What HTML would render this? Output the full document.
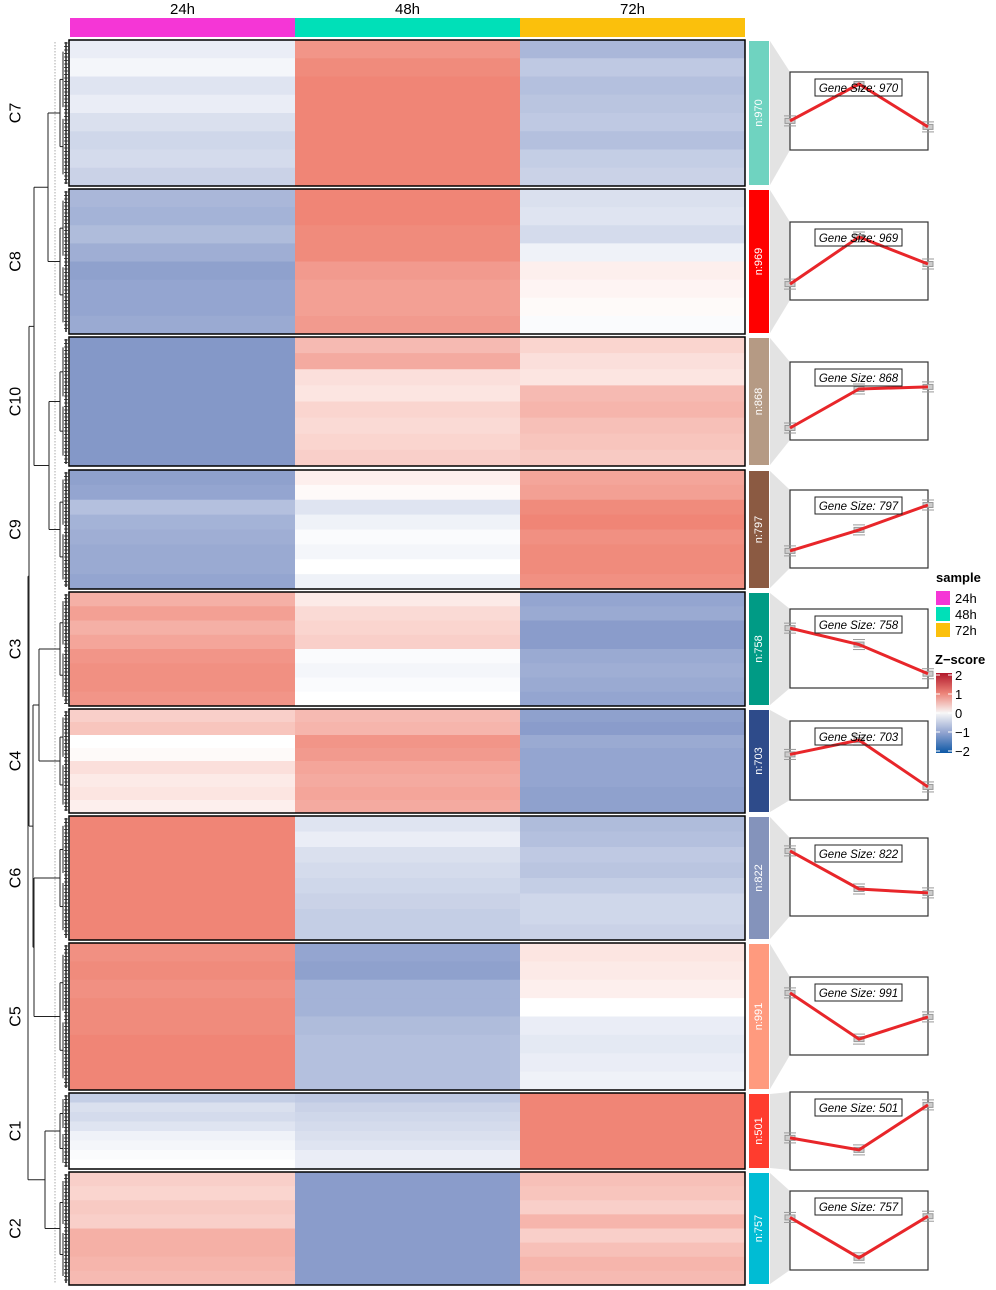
<!DOCTYPE html>
<html><head><meta charset="utf-8"><style>
html,body{margin:0;padding:0;background:#fff;}
svg{display:block;font-family:"Liberation Sans",Arial,sans-serif;}
</style></head><body>
<svg id="chart" width="996" height="1290" viewBox="0 0 996 1290" xmlns="http://www.w3.org/2000/svg">
<g id="hdr"></g>
<g id="dend"></g>
<g id="heat"></g>
<g id="side"></g>
<g id="lines"></g>
<g id="legend"></g>
</svg>
<script>
const samples=["24h","48h","72h"];
const sampleColors=["#f536d6","#00e0b8","#fbc00c"];
const clusters=["C7","C8","C10","C9","C3","C4","C6","C5","C1","C2"];
const geneSizes=[970,969,868,797,758,703,822,991,501,757];
const clusterColors=["#6fd3c0","#ff0000","#b59a84","#8b5a42","#009b85","#2e4b8a","#8493bb","#ff9a7e","#ff3c2e","#00bcd4"];
const heat24=[
[-0.2,-0.1,-0.3,-0.2,-0.35,-0.45,-0.4,-0.5],
[-0.8,-0.85,-0.75,-0.9,-1.05,-1.0,-1.0,-0.95],
[-1.15,-1.15,-1.15,-1.15,-1.15,-1.15,-1.15,-1.15],
[-1.05,-1.0,-0.7,-0.85,-0.9,-0.95,-0.95,-1.0],
[0.75,0.9,0.75,0.85,1.0,1.05,1.05,1.0],
[0.45,0.55,0.0,0.05,0.3,0.2,0.25,0.15],
[1.15,1.15,1.15,1.15,1.15,1.15,1.15,1.15],
[1.05,1.1,1.05,1.1,1.1,1.15,1.15,1.15],
[-0.55,-0.35,-0.4,-0.3,-0.15,-0.1,-0.05,0.0],
[0.45,0.4,0.5,0.45,0.75,0.75,0.7,0.65]];
const heat48=[
[1.0,1.1,1.15,1.15,1.15,1.15,1.15,1.15],
[1.15,1.15,1.1,1.1,0.95,0.9,0.9,0.95],
[0.65,0.8,0.3,0.25,0.4,0.35,0.4,0.45],
[0.15,0.05,-0.3,-0.15,-0.05,-0.1,0.0,-0.15],
[0.2,0.35,0.4,0.45,-0.05,-0.1,-0.05,0.0],
[0.65,0.7,1.0,0.95,0.85,0.8,0.85,0.8],
[-0.3,-0.2,-0.35,-0.4,-0.45,-0.5,-0.55,-0.55],
[-1.0,-1.05,-0.85,-0.85,-0.75,-0.7,-0.7,-0.7],
[-0.6,-0.5,-0.45,-0.4,-0.35,-0.3,-0.2,-0.2],
[-1.1,-1.1,-1.1,-1.1,-1.1,-1.1,-1.1,-1.1]];
const heat72=[
[-0.8,-0.6,-0.7,-0.65,-0.6,-0.7,-0.55,-0.5],
[-0.35,-0.3,-0.4,-0.15,0.15,0.1,0.05,-0.05],
[0.4,0.3,0.25,0.65,0.7,0.6,0.55,0.5],
[0.85,0.9,1.1,1.15,1.05,1.1,1.1,1.05],
[-1.0,-0.95,-1.1,-1.1,-0.95,-0.9,-0.95,-1.0],
[-1.05,-1.1,-0.95,-1.0,-1.0,-1.0,-1.05,-1.05],
[-0.75,-0.7,-0.6,-0.65,-0.55,-0.45,-0.45,-0.5],
[0.25,0.2,0.15,0.0,-0.2,-0.25,-0.2,-0.15],
[1.15,1.15,1.15,1.15,1.15,1.15,1.15,1.15],
[0.6,0.55,0.45,0.7,0.45,0.6,0.7,0.65]];
const meanProfiles=[
[-0.33,0.9,-0.53],[-0.77,0.8,-0.1],[-0.9,0.4,0.47],[-0.73,-0.03,0.8],[0.67,0.13,-0.83],
[0.2,0.67,-0.87],[0.87,-0.4,-0.53],[0.77,-0.77,-0.03],[-0.23,-0.63,0.87],[0.43,-0.9,0.47]];
const zTicks=[2,1,0,-1,-2];

const NS="http://www.w3.org/2000/svg";
function mk(parent,tag,attrs,text){const e=document.createElementNS(NS,tag);for(const k in attrs)e.setAttribute(k,attrs[k]);if(text!==undefined)e.textContent=text;parent.appendChild(e);return e;}
const blocks=[[40,186],[189,334],[337,466],[470,589],[592,706],[709,813],[816,940],[943,1090],[1093,1169],[1172,1285]];
const boxes=[[72,150],[222,300],[362,440],[490,568],[609,688],[721,800],[838,916],[977,1055],[1092,1170],[1191,1270]];
const colX=[70,295,520,745];
function lerp(a,b,t){return a.map((v,i)=>Math.round(v+(b[i]-v)*t));}
function zcol(v){
  const W=[255,255,255],R1=[239,128,112],R2=[190,20,30],B1=[127,147,198],B2=[20,80,160];
  let c;
  if(v>=0){c=v<=1.2?lerp(W,R1,v/1.2):lerp(R1,R2,Math.min(1,(v-1.2)/0.8));}
  else{const a=-v;c=a<=1.2?lerp(W,B1,a/1.2):lerp(B1,B2,Math.min(1,(a-1.2)/0.8));}
  return `rgb(${c[0]},${c[1]},${c[2]})`;
}
const hdr=document.getElementById('hdr');
samples.forEach((s,i)=>{
  const r=mk(hdr,'rect',{x:colX[i],y:18,width:colX[i+1]-colX[i],height:19,fill:sampleColors[i]});
  
  
  const t=mk(hdr,'text',{x:(colX[i]+colX[i+1])/2,y:14,'text-anchor':'middle','font-size':15,fill:'#000'},s);
  
  
});
const heat=document.getElementById('heat');
const side=document.getElementById('side');
const lines=document.getElementById('lines');
const series=[heat24,heat48,heat72];
clusters.forEach((c,ci)=>{
  const [y0,y1]=blocks[ci];const g=mk(heat,'g',{});
  
  
  series.forEach((arr,si)=>{
    const vals=arr[ci];const h=(y1-y0)/vals.length;
    vals.forEach((v,ri)=>{
      const r=mk(g,'rect',{x:colX[si],y:y0+ri*h,width:colX[si+1]-colX[si]+0.5,height:h+0.5,fill:zcol(v)});
      
      
    });
  });
  mk(g,'rect',{x:69,y:y0,width:676,height:y1-y0,fill:'none',stroke:'#000','stroke-width':1.5});
  const ly=(y0+y1)/2;
  const t=mk(heat,'text',{x:16,y:ly,'text-anchor':'middle','font-size':16,transform:`rotate(-90 16 ${ly})`,'dominant-baseline':'central'},c);
  
  
  const sb=mk(side,'rect',{x:749,y:y0+1,width:20,height:y1-y0-2,fill:clusterColors[ci]});
  
  
  const st=mk(side,'text',{x:759,y:ly,'text-anchor':'middle','font-size':11,fill:'#fff',transform:`rotate(-90 759 ${ly})`,'dominant-baseline':'central'},'n:'+geneSizes[ci]);
  
  
  const [b0,b1]=boxes[ci];
  const tp=mk(side,'polygon',{points:`770,${y0+1} 790,${b0} 790,${b1} 770,${y1-1}`,fill:'#e3e3e3'});
  
  
  const lg=mk(lines,'g',{});
  
  
  mk(lg,'rect',{x:790,y:b0,width:138,height:b1-b0,fill:'#fff',stroke:'#333','stroke-width':1.2});
  const yS=v=>b0+(1.3-v)/2.6*(b1-b0);
  const xS=i=>790+i*69;
  const prof=meanProfiles[ci];
  prof.forEach((v,i)=>{
    const x=xS(i),y=yS(v);
    const eb=mk(lg,'g',{stroke:'#999','stroke-width':1,fill:'#ccc'});
    
    
    mk(eb,'rect',{x:x-5,y:y-2.5,width:10,height:5});
    mk(eb,'line',{x1:x-6,x2:x+6,y1:y-5,y2:y-5});
    mk(eb,'line',{x1:x-6,x2:x+6,y1:y+5,y2:y+5});
  });
  const pl=mk(lg,'polyline',{points:prof.map((v,i)=>xS(i)+','+yS(v)).join(' '),fill:'none',stroke:'#e8262a','stroke-width':3});
  
  
  mk(lg,'rect',{x:815,y:b0+7,width:87,height:17,fill:'none',stroke:'#222','stroke-width':1});
  const lt=mk(lg,'text',{x:858.5,y:b0+20,'text-anchor':'middle','font-size':11.5,'font-style':'italic'},'Gene Size: '+geneSizes[ci]);
  
  
});
const dend=document.getElementById('dend');
const L=(x1,y1,x2,y2,w)=>mk(dend,'line',{x1,y1,x2,y2,stroke:'#222','stroke-width':w||1});
mk(dend,'line',{x1:55,y1:42,x2:55,y2:1284,stroke:'#aaa','stroke-width':1,'stroke-dasharray':'1.5,1.5'});
const leafY=blocks.map(b=>(b[0]+b[1])/2);
blocks.forEach((b,ci)=>{
  const [y0,y1]=b;const h=y1-y0;
  const a=y0+h*0.27,c2=y0+h*0.73;
  L(60,a,60,c2);L(60,a,63,a);L(60,c2,63,c2);
  L(63,y0+h*0.08,63,y0+h*0.46);L(63,y0+h*0.54,63,y0+h*0.92);
  for(let yy=y0+3;yy<y1-2;yy+=3.5){L(64,yy,68,yy,0.8);}
  L(66,y0+2,66,y1-2,1.5);
});
function join(y1,y2,x,xa,xb){L(xa,y1,x,y1);L(xb,y2,x,y2);L(x,y1,x,y2);return (y1+y2)/2;}
const A=join(leafY[0],leafY[1],48,60,60);
const B=join(leafY[2],leafY[3],49,60,60);
const AB=join(A,B,34,48,49);
const D=join(leafY[4],leafY[5],39,60,60);
const E=join(leafY[6],leafY[7],34,60,60);
const DE=join(D,E,33,39,34);
const ABDE=join(AB,DE,29,34,33);
const F=join(leafY[8],leafY[9],45,60,60);
join(ABDE,F,28,29,45);
const lgd=document.getElementById('legend');
const st=mk(lgd,'text',{x:936,y:582,'font-size':13,'font-weight':'bold'},'sample');


samples.forEach((s,i)=>{
  const r=mk(lgd,'rect',{x:936,y:591+i*16,width:14,height:14,fill:sampleColors[i]});
  
  
  const t=mk(lgd,'text',{x:955,y:603+i*16,'font-size':13},s);
  
  
});
const zt=mk(lgd,'text',{x:935,y:664,'font-size':13,'font-weight':'bold'},'Z\u2212score');


const defs=mk(lgd,'defs',{});
const gr=mk(defs,'linearGradient',{id:'zg',x1:0,y1:0,x2:0,y2:1});
[[0,'#b2182b'],[0.25,'#ec8277'],[0.5,'#f7f7f7'],[0.75,'#8fa2cf'],[1,'#0d58a6']].forEach(s=>mk(gr,'stop',{offset:s[0],'stop-color':s[1]}));
const cb=mk(lgd,'rect',{x:936,y:673,width:16,height:80,fill:'url(#zg)'});


const zY=v=>713-v*19;
zTicks.forEach(v=>{
  mk(lgd,'line',{x1:936,x2:940,y1:zY(v),y2:zY(v),stroke:'#fff'});
  mk(lgd,'line',{x1:948,x2:952,y1:zY(v),y2:zY(v),stroke:'#fff'});
  const t=mk(lgd,'text',{x:955,y:zY(v)+5,'font-size':13},v<0?'\u2212'+(-v):String(v));
  
  
});
</script>
</body></html>
